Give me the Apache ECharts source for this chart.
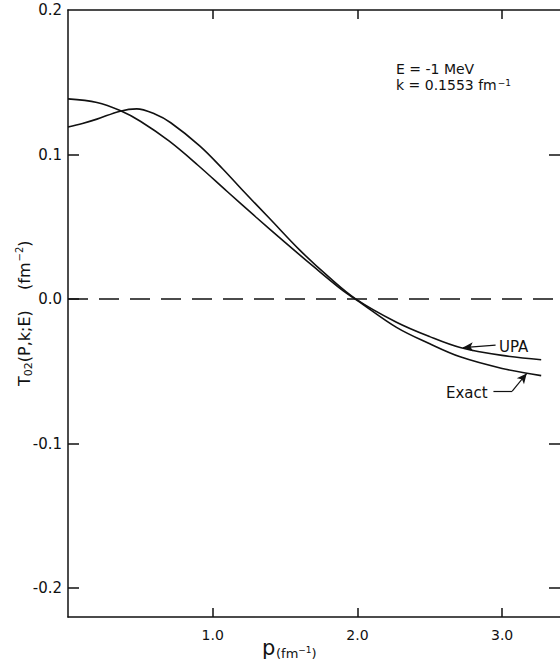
<!DOCTYPE html>
<html>
<head>
<meta charset="utf-8">
<script src="https://cdn.jsdelivr.net/npm/echarts@6/dist/echarts.min.js"></script>
<style>html,body{margin:0;padding:0;background:#fff}#c{width:560px;height:671px}</style>
</head>
<body>
<div id="c"></div>
<script>
const exactP = [0, 0.2, 0.36, 0.5, 0.7, 0.9, 1.1, 1.3, 1.5, 1.7, 1.9, 2.0, 2.27, 2.5, 2.71, 3.0, 3.27];
const exactV = [0.1385, 0.136, 0.1304, 0.123, 0.1092, 0.0924, 0.0744, 0.0566, 0.0392, 0.0222, 0.0058, -0.001, -0.0196, -0.031, -0.040, -0.048, -0.053];
const upaP = [0, 0.1, 0.2, 0.36, 0.475, 0.6, 0.71, 0.91, 1.07, 1.2, 1.4, 1.6, 1.8, 1.99, 2.27, 2.5, 2.71, 3.0, 3.27];
const upaV = [0.119, 0.1215, 0.1245, 0.130, 0.1316, 0.128, 0.122, 0.106, 0.090, 0.076, 0.055, 0.034, 0.0155, 0.0, -0.016, -0.026, -0.0335, -0.039, -0.042];
const xTicks = [1, 2, 3];
const yTicks = [-0.2, -0.1, 0, 0.1, 0.2];
const yTickMarks = [-0.2, -0.1, 0, 0.1];

const FONT = 'DejaVu Sans';
const INK = '#111';
const chart = echarts.init(document.getElementById('c'), null, {renderer: 'svg'});
const pairs = (xs, ys) => xs.map((x, i) => [x, ys[i]]);
const axisLine = {show: true, onZero: false, lineStyle: {color: INK, width: 1.5}};

chart.setOption({
  animation: false,
  grid: {left: 68, right: 0, top: 10, bottom: 54},
  xAxis: [{
    type: 'value', min: 0, max: 3.4, position: 'bottom',
    axisLine: axisLine,
    axisTick: {show: true, inside: true, length: 9, customValues: xTicks, lineStyle: {color: INK, width: 1.5}},
    axisLabel: {show: true, customValues: xTicks, formatter: v => v.toFixed(1), margin: 11, color: INK, fontFamily: FONT, fontSize: 14},
    splitLine: {show: false}
  }, {
    type: 'value', min: 0, max: 3.4, position: 'top',
    axisLine: axisLine,
    axisTick: {show: true, inside: true, length: 9, customValues: xTicks, lineStyle: {color: INK, width: 1.5}},
    axisLabel: {show: false}, splitLine: {show: false}
  }],
  yAxis: [{
    type: 'value', min: -0.22, max: 0.2, position: 'left',
    axisLine: axisLine,
    axisTick: {show: true, inside: true, length: 11, customValues: yTickMarks, lineStyle: {color: INK, width: 1.5}},
    axisLabel: {show: true, customValues: yTicks, formatter: v => v.toFixed(1), margin: 6, color: INK, fontFamily: FONT, fontSize: 15},
    splitLine: {show: false}
  }, {
    type: 'value', min: -0.22, max: 0.2, position: 'right',
    axisLine: {show: false, onZero: false},
    axisTick: {show: true, inside: true, length: 11, customValues: [-0.2, -0.1, 0.1], lineStyle: {color: INK, width: 1.5}},
    axisLabel: {show: false}, splitLine: {show: false}
  }],
  series: [{
    name: 'Exact', type: 'line', data: pairs(exactP, exactV), smooth: 0.35, showSymbol: false,
    lineStyle: {color: INK, width: 1.6},
    markLine: {
      silent: true, symbol: ['none', 'none'], label: {show: false},
      lineStyle: {color: INK, width: 1.5, type: [20, 11]},
      data: [[{coord: [0, 0]}, {coord: [3.4, 0]}]]
    }
  }, {
    name: 'UPA', type: 'line', data: pairs(upaP, upaV), smooth: 0.35, showSymbol: false,
    lineStyle: {color: INK, width: 1.6},
    markLine: {
      silent: true, symbol: ['none', 'arrow'], symbolSize: [7, 10], label: {show: false},
      lineStyle: {color: INK, width: 1.2, type: 'solid'},
      data: [
        [{coord: [2.955, -0.0319]}, {coord: [2.73, -0.0336]}],
        [{coord: [2.94, -0.0637], symbol: 'none'}, {coord: [3.07, -0.0637], symbol: 'none'}],
        [{coord: [3.07, -0.0637]}, {coord: [3.17, -0.0515]}]
      ]
    }
  }],
  graphic: [
    {type: 'text', left: 396, top: 62, style: {text: 'E = -1 MeV', fill: INK, font: '14px "DejaVu Sans"', lineHeight: 14}},
    {type: 'text', left: 396, top: 78, style: {
      text: '{a|k = 0.1553 fm}{s|−1}', fill: INK,
      rich: {a: {fontFamily: FONT, fontSize: 14, lineHeight: 14, fill: INK}, s: {fontFamily: FONT, fontSize: 9, lineHeight: 9, verticalAlign: 'top', fill: INK, padding: [0, 0, 0, 1]}}
    }},
    {type: 'text', left: 499, top: 339, style: {text: 'UPA', fill: INK, font: '15px "DejaVu Sans"'}},
    {type: 'text', left: 446, top: 385, style: {text: 'Exact', fill: INK, font: '15px "DejaVu Sans"'}},
    {type: 'text', left: 262, top: 637, style: {text: 'p', fill: INK, font: '21px "DejaVu Sans"', lineHeight: 22}},
    {type: 'text', left: 276, top: 645, style: {
      text: '{b|(fm}{s|−1}{b|)}', fill: INK,
      rich: {b: {fontFamily: FONT, fontSize: 13, lineHeight: 16, fill: INK}, s: {fontFamily: FONT, fontSize: 9, lineHeight: 9, verticalAlign: 'top', fill: INK}}
    }},
    {type: 'text', x: 14, y: 386, rotation: Math.PI / 2, style: {
      text: '{a|T}{u|02}{a|(P,k;E)    (fm}{s|−2}{a|)}', fill: INK,
      rich: {a: {fontFamily: FONT, fontSize: 16, lineHeight: 20, fill: INK}, u: {fontFamily: FONT, fontSize: 11, lineHeight: 11, verticalAlign: 'bottom', fill: INK}, s: {fontFamily: FONT, fontSize: 10, lineHeight: 10, verticalAlign: 'top', fill: INK, padding: [0, 0, 0, 1]}}
    }}
  ]
});
</script>
</body>
</html>
